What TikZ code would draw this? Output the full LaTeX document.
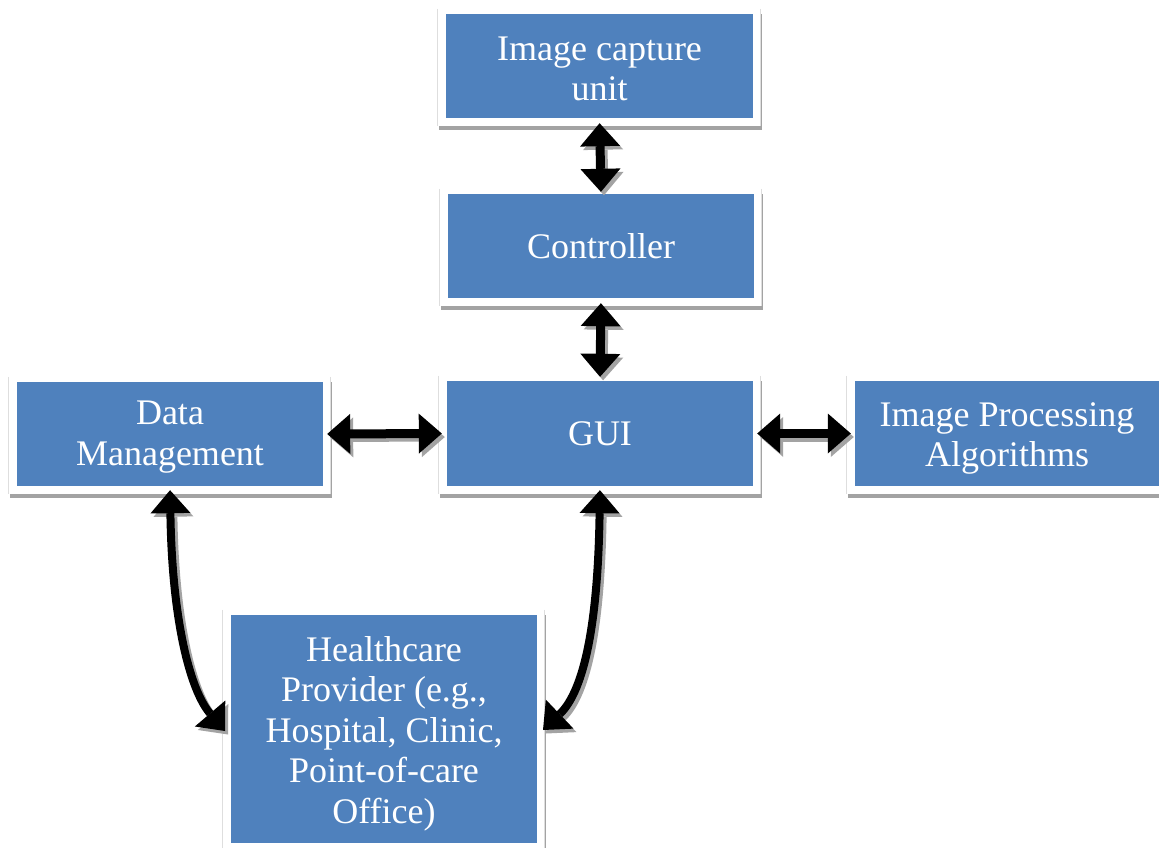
\documentclass[tikz,border=0pt]{standalone}
\usepackage{fontspec}
\setmainfont{Liberation Serif}
\usetikzlibrary{arrows.meta,calc}
\definecolor{boxblue}{HTML}{4F81BD}
\definecolor{shadowgray}{HTML}{A3A3A3}
\definecolor{framegray}{HTML}{DEDEDE}
\pgfdeclarelayer{background}
\pgfsetlayers{background,main}
\newcommand\dblarrow[1]{%
  \begin{scope}[transform canvas={shift={(3pt,-3.5pt)}}]\draw[dbl,shadowgray] #1;\end{scope}
  \draw[dbl,black] #1;}
\newcommand\topstrut[1]{\rule{0pt}{#1pt}}
\begin{document}
\begin{tikzpicture}[x=1pt,y=-1pt,
  blk/.style={rectangle,fill=boxblue,text=white,inner sep=0pt,align=center,
    font=\fontsize{36}{40.5}\selectfont},
  dbl/.style={line width=9pt,
    {Triangle[width=40pt,length=23pt,line width=0pt]}-{Triangle[width=40pt,length=23pt,line width=0pt]}},
  ]
\useasboundingbox (0,0) rectangle (1159,848);
\clip (0,0) rectangle (1159,848);
\node[blk,minimum width=307pt,minimum height=104pt] (cap) at (599.5,66) {\topstrut{29}Image capture\\unit};
\node[blk,minimum width=306pt,minimum height=104pt] (ctrl) at (601,246) {Controller};
\node[blk,minimum width=306pt,minimum height=105pt] (gui) at (600,433.5) {GUI};
\node[blk,minimum width=306pt,minimum height=104pt] (data) at (170,434) {\topstrut{30}Data\\Management};
\node[blk,minimum width=304pt,minimum height=105pt] (proc) at (1007,433.5) {\topstrut{34}Image Processing\\Algorithms};
\node[blk,minimum width=306pt,minimum height=228pt] (hc) at (384,729) {\topstrut{34.5}Healthcare\\Provider (e.g.,\\Hospital, Clinic,\\Point-of-care\\Office)};
\begin{pgfonlayer}{background}
\foreach \n in {cap,ctrl,gui,data,proc,hc}{
  \fill[shadowgray] ($(\n.north west)+(-7,0)$) rectangle ($(\n.south east)+(8.5,12)$);
  \fill[white] ($(\n.north west)+(-8,-5)$) rectangle ($(\n.south east)+(7,8)$);
  \draw[framegray,line width=0.8pt] ($(\n.north west)+(-8,-5)$) -- ($(\n.south west)+(-8,8)$);
  \draw[framegray,line width=0.8pt] ($(\n.north east)+(7,-5)$) -- ($(\n.south east)+(7,8)$);
}
\end{pgfonlayer}
\dblarrow{[shorten <=5pt,shorten >=2pt] (cap.south) -- (ctrl.north)}
\dblarrow{[shorten <=5pt,shorten >=4pt] (ctrl.south) -- (gui.north)}
\dblarrow{[shorten <=4pt,shorten >=5pt] (data.east) -- (gui.west)}
\dblarrow{[shorten <=4pt,shorten >=4pt] (gui.east) -- (proc.west)}
\coordinate (hcl) at (225,731);
\coordinate (hcr) at (543,730);
\dblarrow{[shorten <=4pt,line width=8pt] (data.south) .. controls (172,620) and (190,690) .. (hcl)}
\dblarrow{[shorten <=4pt,line width=8pt] (gui.south) .. controls (598,620) and (585,690) .. (hcr)}
\end{tikzpicture}
\end{document}
